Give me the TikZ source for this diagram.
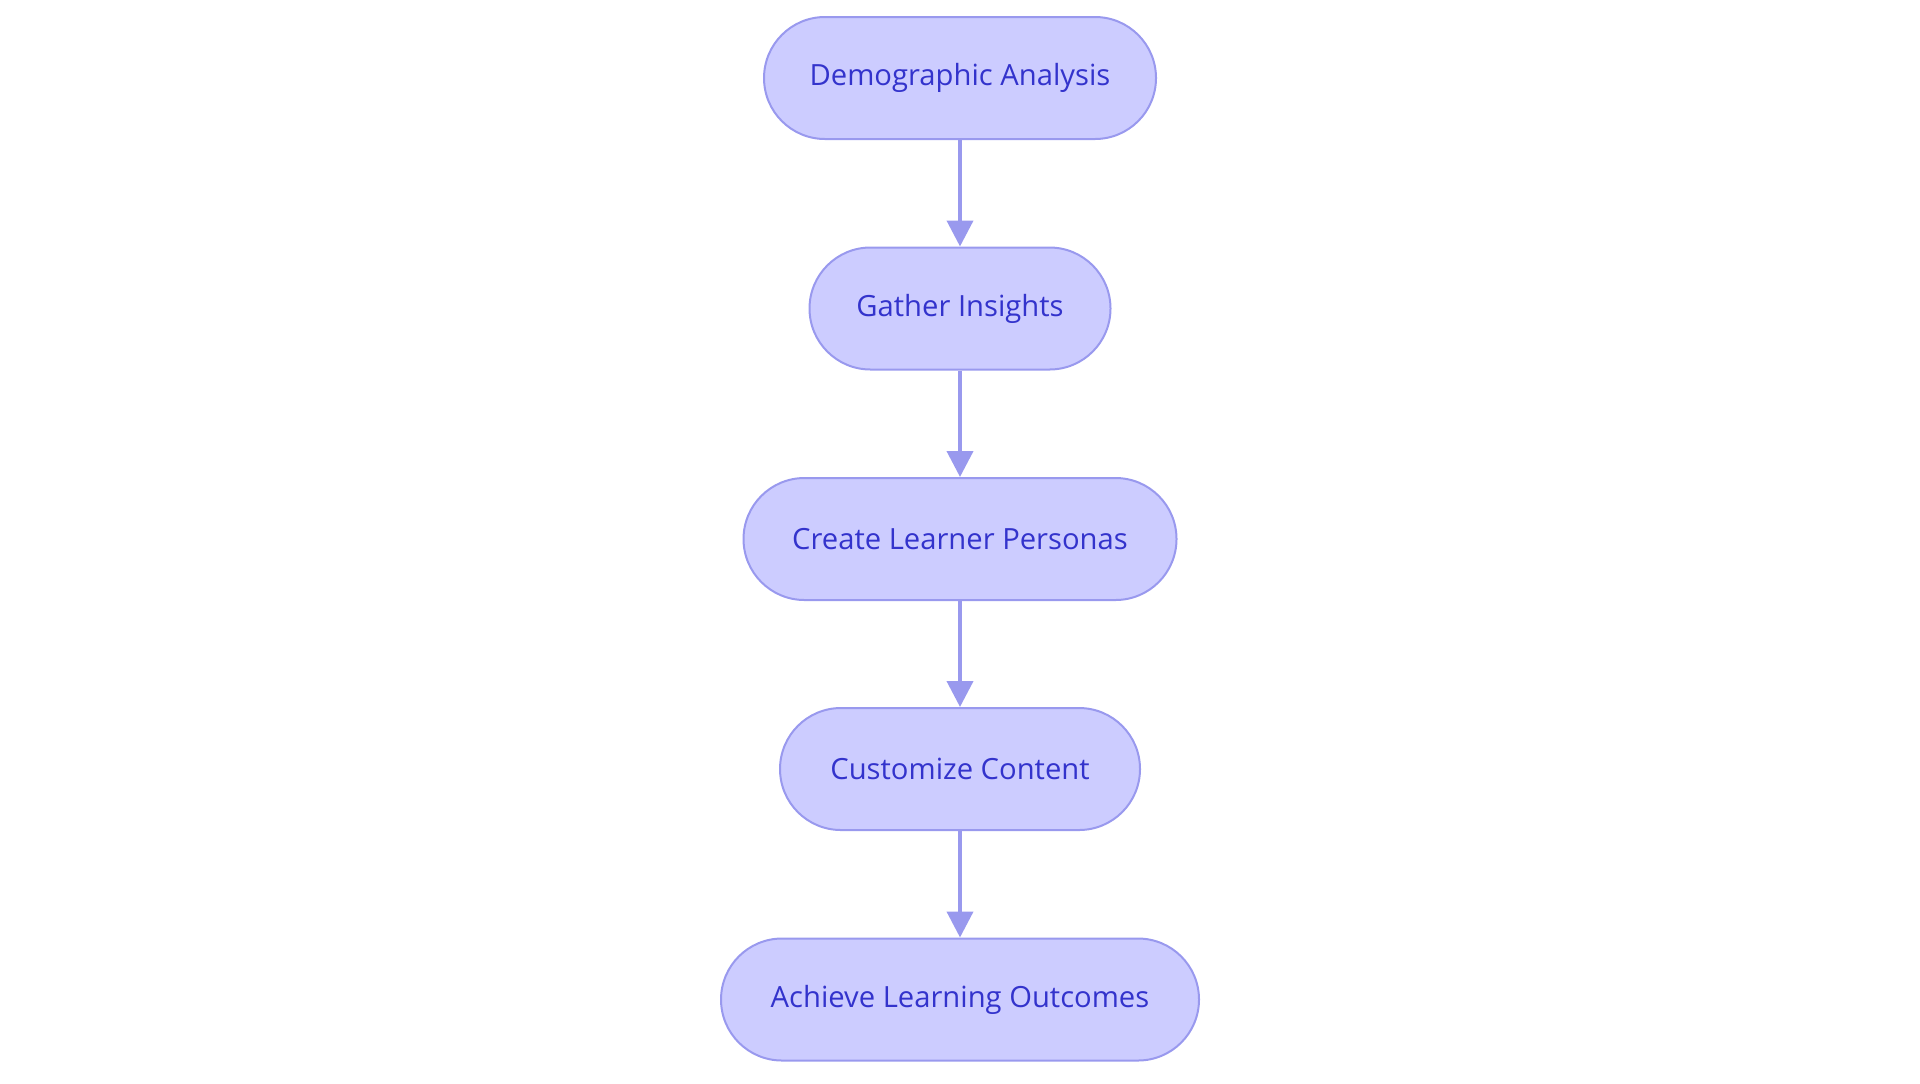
\documentclass[tikz,border=0pt]{standalone}
\usepackage{fontspec}
\setmainfont{Open Sans}
\usetikzlibrary{arrows.meta}
\definecolor{nfill}{HTML}{CCCCFF}
\definecolor{nline}{HTML}{9999EE}
\definecolor{ntext}{HTML}{3333CC}
\tikzset{
  pill/.style={draw=nline,fill=nfill,line width=1pt,rounded corners=30.5pt,minimum height=61pt,text=ntext,font=\fontsize{14.6}{17}\selectfont,inner sep=0pt},
  conn/.style={draw=nline,line width=2pt,-{Triangle[length=13pt,width=13pt]}}
}
\begin{document}
\begin{tikzpicture}[x=0.5pt,y=-0.5pt]
\useasboundingbox (0,0) rectangle (1920,1083);
\node[pill,minimum width=196pt] (a) at (960,78) {\raisebox{-1pt}{Demographic Analysis}};
\node[pill,minimum width=150.5pt] (b) at (960,308.5) {\raisebox{-1pt}{Gather Insights}};
\node[pill,minimum width=216.5pt] (c) at (960,539) {\raisebox{-1pt}{Create Learner Personas}};
\node[pill,minimum width=180pt] (d) at (960,769) {\raisebox{-1pt}{Customize Content}};
\node[pill,minimum width=239pt] (e) at (960,999.5) {\raisebox{-1pt}{Achieve Learning Outcomes}};
\draw[conn] (a) -- (b);
\draw[conn] (b) -- (c);
\draw[conn] (c) -- (d);
\draw[conn] (d) -- (e);
\end{tikzpicture}
\end{document}
